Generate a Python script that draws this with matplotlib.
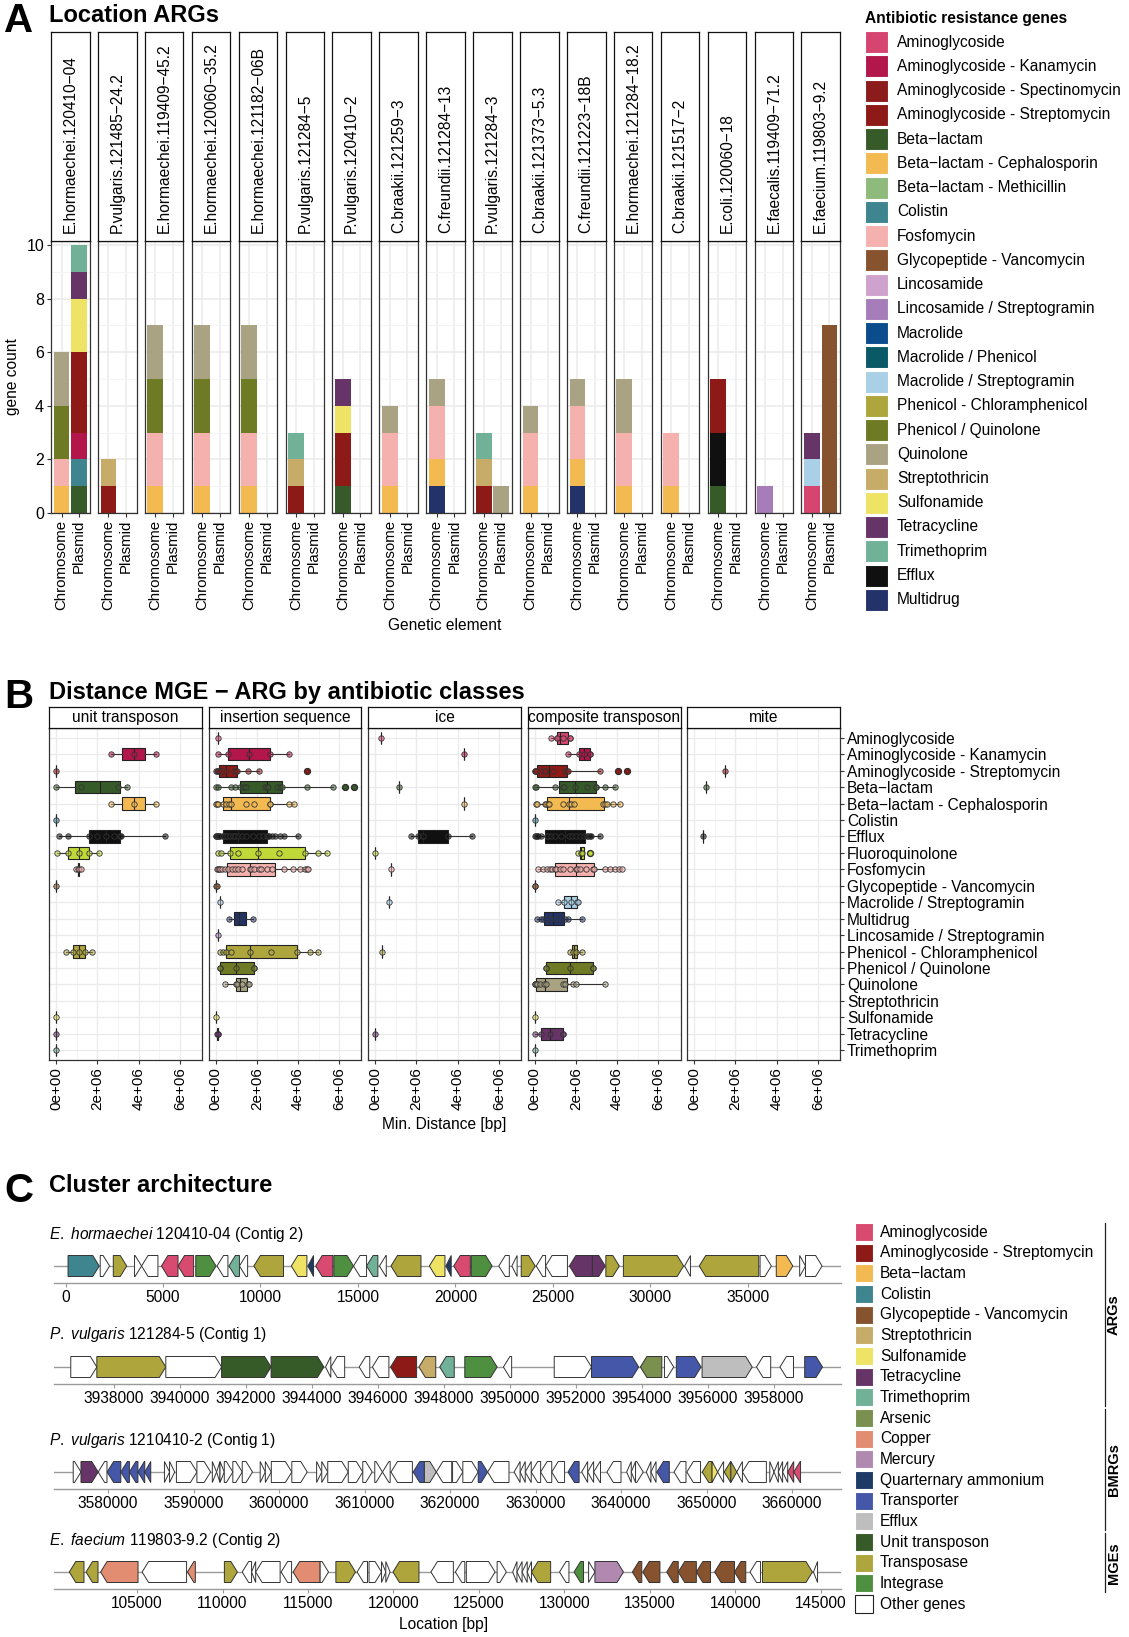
import numpy as np
import matplotlib
matplotlib.use('Agg')
import matplotlib.pyplot as plt
from matplotlib.patches import Rectangle
from matplotlib.colors import to_rgba
from matplotlib import font_manager

plt.rcParams['font.family'] = ['Liberation Sans', 'DejaVu Sans']
plt.rcParams['mathtext.fontset'] = 'custom'
plt.rcParams['mathtext.it'] = 'Liberation Sans:italic'
plt.rcParams['mathtext.rm'] = 'Liberation Sans'
_names = {f.name for f in font_manager.fontManager.ttflist}
NARROW = 'Liberation Sans Narrow' if 'Liberation Sans Narrow' in _names else 'Liberation Sans'

W, H = 1129, 1637
fig = plt.figure(figsize=(W / 100, H / 100), dpi=100)

FS = 11.2  # base text size


def rect(l, t, w, h):
    return [l / W, 1 - (t + h) / H, w / W, h / H]


def ftext(x, y, s, **kw):
    return fig.text(x / W, 1 - y / H, s, **kw)


# ---------------- data: panel A ----------------
arg_classes = ['Aminoglycoside', 'Aminoglycoside - Kanamycin', 'Aminoglycoside - Spectinomycin',
               'Aminoglycoside - Streptomycin', 'Beta−lactam', 'Beta−lactam - Cephalosporin',
               'Beta−lactam - Methicillin', 'Colistin', 'Fosfomycin', 'Glycopeptide - Vancomycin',
               'Lincosamide', 'Lincosamide / Streptogramin', 'Macrolide', 'Macrolide / Phenicol',
               'Macrolide / Streptogramin', 'Phenicol - Chloramphenicol', 'Phenicol / Quinolone',
               'Quinolone', 'Streptothricin', 'Sulfonamide', 'Tetracycline', 'Trimethoprim',
               'Efflux', 'Multidrug']
arg_colors = {
    'Aminoglycoside': '#D5456F', 'Aminoglycoside - Kanamycin': '#B3164B',
    'Aminoglycoside - Spectinomycin': '#8C1C1C', 'Aminoglycoside - Streptomycin': '#8E1A17',
    'Beta−lactam': '#375A29', 'Beta−lactam - Cephalosporin': '#F3BA52',
    'Beta−lactam - Methicillin': '#8EBA7B', 'Colistin': '#3E8590', 'Fosfomycin': '#F5B1AE',
    'Glycopeptide - Vancomycin': '#87532F', 'Lincosamide': '#CFA2CE',
    'Lincosamide / Streptogramin': '#A67DB8', 'Macrolide': '#0B4C8C',
    'Macrolide / Phenicol': '#0A5967', 'Macrolide / Streptogramin': '#A9D0E6',
    'Phenicol - Chloramphenicol': '#AEA63C', 'Phenicol / Quinolone': '#6F7A25',
    'Quinolone': '#A9A383', 'Streptothricin': '#C7AB69', 'Sulfonamide': '#EEE365',
    'Tetracycline': '#673468', 'Trimethoprim': '#71B198', 'Efflux': '#101010',
    'Multidrug': '#233268', 'Fluoroquinolone': '#C0D838',
}

strains = ['E.hormaechei.120410−04', 'P.vulgaris.121485−24.2', 'E.hormaechei.119409−45.2',
           'E.hormaechei.120060−35.2', 'E.hormaechei.121182−06B', 'P.vulgaris.121284−5',
           'P.vulgaris.120410−2', 'C.braakii.121259−3', 'C.freundii.121284−13',
           'P.vulgaris.121284−3', 'C.braakii.121373−5.3', 'C.freundii.121223−18B',
           'E.hormaechei.121284−18.2', 'C.braakii.121517−2', 'E.coli.120060−18',
           'E.faecalis.119409−71.2', 'E.faecium.119803−9.2']

chromosome_counts = [
    [('Beta−lactam - Cephalosporin', 1), ('Fosfomycin', 1), ('Phenicol / Quinolone', 2), ('Quinolone', 2)],
    [('Aminoglycoside - Streptomycin', 1), ('Streptothricin', 1)],
    [('Beta−lactam - Cephalosporin', 1), ('Fosfomycin', 2), ('Phenicol / Quinolone', 2), ('Quinolone', 2)],
    [('Beta−lactam - Cephalosporin', 1), ('Fosfomycin', 2), ('Phenicol / Quinolone', 2), ('Quinolone', 2)],
    [('Beta−lactam - Cephalosporin', 1), ('Fosfomycin', 2), ('Phenicol / Quinolone', 2), ('Quinolone', 2)],
    [('Aminoglycoside - Streptomycin', 1), ('Streptothricin', 1), ('Trimethoprim', 1)],
    [('Beta−lactam', 1), ('Aminoglycoside - Streptomycin', 2), ('Sulfonamide', 1), ('Tetracycline', 1)],
    [('Beta−lactam - Cephalosporin', 1), ('Fosfomycin', 2), ('Quinolone', 1)],
    [('Multidrug', 1), ('Beta−lactam - Cephalosporin', 1), ('Fosfomycin', 2), ('Quinolone', 1)],
    [('Aminoglycoside - Streptomycin', 1), ('Streptothricin', 1), ('Trimethoprim', 1)],
    [('Beta−lactam - Cephalosporin', 1), ('Fosfomycin', 2), ('Quinolone', 1)],
    [('Multidrug', 1), ('Beta−lactam - Cephalosporin', 1), ('Fosfomycin', 2), ('Quinolone', 1)],
    [('Beta−lactam - Cephalosporin', 1), ('Fosfomycin', 2), ('Quinolone', 2)],
    [('Beta−lactam - Cephalosporin', 1), ('Fosfomycin', 2)],
    [('Beta−lactam', 1), ('Efflux', 2), ('Aminoglycoside - Streptomycin', 2)],
    [('Lincosamide / Streptogramin', 1)],
    [('Aminoglycoside', 1), ('Macrolide / Streptogramin', 1), ('Tetracycline', 1)],
]
plasmid_counts = [
    [('Beta−lactam', 1), ('Colistin', 1), ('Aminoglycoside - Kanamycin', 1),
     ('Aminoglycoside - Streptomycin', 3), ('Sulfonamide', 2), ('Tetracycline', 1), ('Trimethoprim', 1)],
    [], [], [], [], [], [], [], [],
    [('Quinolone', 1)],
    [], [], [], [], [], [],
    [('Glycopeptide - Vancomycin', 7)],
]

# ---------------- data: panel B (distances in Mb) ----------------
mge_types = ['unit transposon', 'insertion sequence', 'ice', 'composite transposon', 'mite']
b_rows = ['Aminoglycoside', 'Aminoglycoside - Kanamycin', 'Aminoglycoside - Streptomycin',
          'Beta−lactam', 'Beta−lactam - Cephalosporin', 'Colistin', 'Efflux', 'Fluoroquinolone',
          'Fosfomycin', 'Glycopeptide - Vancomycin', 'Macrolide / Streptogramin', 'Multidrug',
          'Lincosamide / Streptogramin', 'Phenicol - Chloramphenicol', 'Phenicol / Quinolone',
          'Quinolone', 'Streptothricin', 'Sulfonamide', 'Tetracycline', 'Trimethoprim']

unit_transposon = {
    'Aminoglycoside - Kanamycin': [2.64, 3.76, 4.86],
    'Aminoglycoside - Streptomycin': [0.0],
    'Beta−lactam': [0.0, 1.22, 3.0, 3.44],
    'Beta−lactam - Cephalosporin': [2.64, 3.76, 4.86],
    'Colistin': [0.02],
    'Efflux': [0.13, 0.57, 1.6, 2.0, 2.43, 2.8, 3.11, 3.15, 5.3],
    'Fluoroquinolone': [0.05, 0.57, 1.1, 1.62, 2.1],
    'Fosfomycin': [0.98, 1.07, 1.1, 1.2],
    'Glycopeptide - Vancomycin': [0.0],
    'Phenicol - Chloramphenicol': [0.49, 0.8, 1.1, 1.4, 1.72],
    'Sulfonamide': [0.0],
    'Tetracycline': [0.0],
    'Trimethoprim': [0.0],
}
insertion_sequence = {
    'Aminoglycoside': [0.1],
    'Aminoglycoside - Kanamycin': [0.1, 0.6, 1.6, 2.62, 3.58],
    'Aminoglycoside - Streptomycin': [0.0, 0.05, 0.1, 0.15, 0.25, 0.3, 0.5, 0.9, 1.0, 1.05, 1.55, 2.1, 4.45],
    'Beta−lactam': [0.0, 0.1, 0.76, 0.94, 1.2, 1.38, 1.5, 2.4, 2.5, 2.55, 3.0, 3.11, 3.2, 4.41, 5.67, 6.25, 6.73],
    'Beta−lactam - Cephalosporin': [0.0, 0.08, 0.13, 0.36, 0.49, 0.65, 0.76, 1.49, 1.85, 2.62, 2.65, 3.57, 3.78],
    'Efflux': [0.0, 0.03, 0.06, 0.1, 0.15, 0.2, 0.36, 0.38, 0.45, 0.55, 0.7, 0.85, 0.95, 1.1, 1.3,
               1.5, 1.8, 2.1, 2.3, 2.48, 2.52, 2.6, 2.75, 2.9, 3.1, 3.3, 4.0],
    'Fluoroquinolone': [0.1, 0.28, 0.71, 1.1, 2.07, 3.08, 4.31, 4.94, 5.4],
    'Fosfomycin': [0.05, 0.1, 0.15, 0.2, 0.3, 0.44, 0.6, 0.8, 0.95, 1.1, 1.3, 1.65, 1.7, 1.85, 2.1,
                   2.2, 2.5, 2.75, 3.3, 3.75, 4.1, 4.35, 4.45, 4.5],
    'Glycopeptide - Vancomycin': [0.0, 0.05],
    'Macrolide / Streptogramin': [0.2],
    'Multidrug': [0.65, 1.13, 1.82],
    'Lincosamide / Streptogramin': [0.13],
    'Phenicol - Chloramphenicol': [0.24, 0.35, 0.5, 0.73, 1.65, 2.67, 3.94, 4.57, 4.98],
    'Phenicol / Quinolone': [0.2, 0.2, 1.0, 1.85, 1.85],
    'Quinolone': [0.45, 1.0, 1.05, 1.3, 1.58, 1.6],
    'Sulfonamide': [0.0],
    'Tetracycline': [0.05, 0.1, 0.12],
}
ice = {
    'Aminoglycoside': [0.31],
    'Aminoglycoside - Kanamycin': [4.3],
    'Beta−lactam': [1.15],
    'Beta−lactam - Cephalosporin': [4.3],
    'Efflux': [1.72, 2.1, 2.3, 3.53, 4.72],
    'Fluoroquinolone': [0.0],
    'Fosfomycin': [0.75],
    'Macrolide / Streptogramin': [0.66],
    'Phenicol - Chloramphenicol': [0.32],
    'Tetracycline': [0.0],
}
composite_transposon = {
    'Aminoglycoside': [0.8, 1.07, 1.07, 1.4, 1.7, 1.7],
    'Aminoglycoside - Kanamycin': [1.63, 2.17, 2.4, 2.7, 2.7],
    'Aminoglycoside - Streptomycin': [0.0, 0.03, 0.05, 0.07, 0.3, 0.49, 0.5, 0.9, 1.5, 1.56, 1.6, 3.17, 4.02, 4.49],
    'Beta−lactam': [0.0, 0.07, 0.99, 1.4, 1.45, 1.95, 2.53, 2.96, 3.0, 3.43, 3.92],
    'Beta−lactam - Cephalosporin': [0.05, 0.1, 0.5, 0.55, 0.63, 0.7, 1.4, 1.65, 1.75, 1.9, 3.3, 3.4, 3.5, 3.8, 4.15],
    'Colistin': [0.0],
    'Efflux': [0.0, 0.05, 0.1, 0.15, 0.3, 0.6, 0.65, 0.8, 1.0, 1.3, 1.66, 1.8, 2.0, 2.2, 2.4,
               2.56, 2.6, 2.7, 2.75, 3.17],
    'Fluoroquinolone': [2.12, 2.25, 2.3, 2.7],
    'Fosfomycin': [0.15, 0.4, 0.6, 0.75, 0.85, 1.0, 1.05, 1.25, 1.4, 1.7, 2.0, 2.05, 2.2, 2.5,
                   2.85, 2.9, 3.4, 3.65, 3.9, 4.1, 4.25],
    'Glycopeptide - Vancomycin': [0.0, 0.02],
    'Macrolide / Streptogramin': [1.14, 1.45, 1.75, 2.08, 2.1],
    'Multidrug': [0.1, 0.3, 0.42, 0.6, 0.8, 1.0, 1.25, 1.5, 1.6, 2.3],
    'Phenicol - Chloramphenicol': [1.7, 1.85, 2.0, 2.3],
    'Phenicol / Quinolone': [0.55, 0.55, 1.7, 2.85, 2.85],
    'Quinolone': [0.0, 0.03, 0.05, 0.1, 0.28, 0.48, 0.55, 1.4, 1.5, 1.87, 2.0, 3.43],
    'Sulfonamide': [0.0],
    'Tetracycline': [0.0, 0.33, 0.76, 1.37, 1.37],
    'Trimethoprim': [0.0],
}
mite = {
    'Aminoglycoside - Streptomycin': [1.49],
    'Beta−lactam': [0.57],
    'Efflux': [0.45],
}
distances = [unit_transposon, insertion_sequence, ice, composite_transposon, mite]

# ---------------- data: panel C (start, end, strand, class) ----------------
gene_classes = ['Aminoglycoside', 'Aminoglycoside - Streptomycin', 'Beta−lactam', 'Colistin',
                'Glycopeptide - Vancomycin', 'Streptothricin', 'Sulfonamide', 'Tetracycline',
                'Trimethoprim', 'Arsenic', 'Copper', 'Mercury', 'Quarternary ammonium',
                'Transporter', 'Efflux', 'Unit transposon', 'Transposase', 'Integrase', 'Other genes']
gene_colors = {
    'Aminoglycoside': '#D94A70', 'Aminoglycoside - Streptomycin': '#8E1A17', 'Beta−lactam': '#F3BA52',
    'Colistin': '#3E8590', 'Glycopeptide - Vancomycin': '#87532F', 'Streptothricin': '#C7AB69',
    'Sulfonamide': '#EEE365', 'Tetracycline': '#673468', 'Trimethoprim': '#71B198',
    'Arsenic': '#79904F', 'Copper': '#E28C72', 'Mercury': '#B088B0',
    'Quarternary ammonium': '#1E3B66', 'Transporter': '#4557A9', 'Efflux': '#BEBEBE',
    'Unit transposon': '#375A29', 'Transposase': '#AEA63C', 'Integrase': '#4F9040',
    'Other genes': '#FFFFFF',
}

track1_genes = [
    (130, 1730, 1, 'Colistin'), (1780, 2260, 1, 'Other genes'), (2450, 3140, 1, 'Transposase'),
    (3540, 3900, 1, 'Other genes'), (3900, 4740, -1, 'Other genes'), (4920, 5770, -1, 'Aminoglycoside'),
    (5770, 6570, -1, 'Aminoglycoside'), (6680, 7720, 1, 'Integrase'), (7770, 8330, -1, 'Other genes'),
    (8380, 8920, -1, 'Trimethoprim'), (8920, 9340, -1, 'Other genes'), (9660, 11180, -1, 'Transposase'),
    (11580, 12380, -1, 'Sulfonamide'), (12430, 12720, -1, 'Quarternary ammonium'),
    (12830, 13710, -1, 'Aminoglycoside'), (13760, 14770, 1, 'Integrase'), (14770, 15440, -1, 'Other genes'),
    (15440, 16020, -1, 'Trimethoprim'), (16100, 16450, -1, 'Other genes'), (16690, 18230, -1, 'Transposase'),
    (18660, 19460, -1, 'Sulfonamide'), (19510, 19780, -1, 'Quarternary ammonium'),
    (19910, 20760, -1, 'Aminoglycoside'), (20810, 21880, 1, 'Integrase'), (22220, 22760, -1, 'Other genes'),
    (22890, 23160, -1, 'Other genes'), (23370, 24090, 1, 'Transposase'), (24140, 24620, -1, 'Other genes'),
    (24620, 25740, -1, 'Other genes'), (25840, 27020, -1, 'Tetracycline'), (27020, 27680, 1, 'Tetracycline'),
    (27710, 28400, 1, 'Transposase'), (28610, 31700, 1, 'Transposase'), (31750, 32050, -1, 'Other genes'),
    (32500, 35550, -1, 'Transposase'), (35620, 36200, 1, 'Other genes'), (36450, 37300, 1, 'Beta−lactam'),
    (37650, 37950, 1, 'Other genes'), (37950, 38800, 1, 'Other genes'),
]
track2_genes = [
    (3936690, 3937480, 1, 'Other genes'), (3937480, 3939570, 1, 'Transposase'),
    (3939570, 3941260, 1, 'Other genes'), (3941260, 3942760, 1, 'Unit transposon'),
    (3942760, 3944360, 1, 'Unit transposon'), (3944410, 3944570, -1, 'Other genes'),
    (3944570, 3944990, -1, 'Other genes'), (3945430, 3945750, -1, 'Other genes'),
    (3945830, 3946330, -1, 'Other genes'), (3946380, 3947170, -1, 'Aminoglycoside - Streptomycin'),
    (3947240, 3947750, -1, 'Streptothricin'), (3947870, 3948310, -1, 'Trimethoprim'),
    (3948630, 3949610, 1, 'Integrase'), (3949800, 3950050, -1, 'Other genes'),
    (3951340, 3952470, 1, 'Other genes'), (3952470, 3953900, 1, 'Transporter'),
    (3953950, 3954600, -1, 'Arsenic'), (3954680, 3954960, 1, 'Other genes'),
    (3955040, 3955790, 1, 'Transporter'), (3955820, 3957340, 1, 'Efflux'),
    (3957470, 3957900, -1, 'Other genes'), (3958180, 3958590, -1, 'Other genes'),
    (3958930, 3959470, 1, 'Transporter'),
]
track3_genes = [
    (3575930, 3576840, 1, 'Other genes'), (3576840, 3578850, 1, 'Tetracycline'),
    (3578850, 3579880, -1, 'Other genes'), (3579900, 3581500, -1, 'Transporter'),
    (3581500, 3582500, -1, 'Transporter'), (3582500, 3583500, -1, 'Transporter'),
    (3583500, 3584300, -1, 'Transporter'), (3584300, 3585000, -1, 'Transporter'),
    (3586600, 3587200, 1, 'Other genes'), (3587200, 3587800, 1, 'Other genes'),
    (3588000, 3590400, 1, 'Other genes'), (3590400, 3592000, 1, 'Other genes'),
    (3592200, 3592700, 1, 'Other genes'), (3592700, 3593100, -1, 'Other genes'),
    (3593100, 3593600, 1, 'Other genes'), (3593600, 3594600, 1, 'Other genes'),
    (3594600, 3595700, 1, 'Other genes'), (3595700, 3596900, 1, 'Other genes'),
    (3597800, 3598400, 1, 'Other genes'), (3598400, 3599100, 1, 'Other genes'),
    (3599100, 3601500, 1, 'Other genes'), (3601500, 3603300, 1, 'Other genes'),
    (3604400, 3605000, 1, 'Other genes'), (3605000, 3605700, 1, 'Other genes'),
    (3605700, 3608100, 1, 'Other genes'), (3608100, 3609800, 1, 'Other genes'),
    (3609800, 3610900, 1, 'Other genes'), (3611200, 3612100, 1, 'Other genes'),
    (3612100, 3613000, -1, 'Other genes'), (3613100, 3615600, -1, 'Other genes'),
    (3615700, 3617000, -1, 'Transporter'), (3617000, 3618400, 1, 'Efflux'),
    (3618400, 3620200, -1, 'Other genes'), (3620300, 3621500, 1, 'Other genes'),
    (3621500, 3623300, 1, 'Other genes'), (3623300, 3624400, 1, 'Transporter'),
    (3624400, 3626900, -1, 'Other genes'), (3627500, 3628200, -1, 'Other genes'),
    (3628200, 3628800, -1, 'Other genes'), (3628800, 3629500, -1, 'Other genes'),
    (3629500, 3630600, -1, 'Other genes'), (3630600, 3631900, -1, 'Other genes'),
    (3631900, 3633400, -1, 'Other genes'), (3633800, 3635100, -1, 'Transporter'),
    (3635400, 3636100, -1, 'Other genes'), (3636100, 3636800, -1, 'Other genes'),
    (3636800, 3637600, -1, 'Other genes'), (3638350, 3640000, -1, 'Other genes'),
    (3640660, 3641200, -1, 'Other genes'), (3641200, 3641700, -1, 'Other genes'),
    (3641700, 3642600, 1, 'Other genes'), (3642960, 3643500, -1, 'Other genes'),
    (3643500, 3644100, -1, 'Other genes'), (3644200, 3645650, -1, 'Transporter'),
    (3646200, 3647600, -1, 'Other genes'), (3647700, 3649300, -1, 'Other genes'),
    (3649500, 3650650, -1, 'Transposase'), (3650650, 3651300, 1, 'Sulfonamide'),
    (3651300, 3652000, -1, 'Other genes'), (3652070, 3652850, -1, 'Transposase'),
    (3652850, 3653540, 1, 'Transposase'), (3653540, 3654200, -1, 'Other genes'),
    (3654200, 3657000, -1, 'Other genes'), (3657400, 3657900, 1, 'Other genes'),
    (3657900, 3658400, -1, 'Other genes'), (3658400, 3658900, -1, 'Other genes'),
    (3658900, 3659500, -1, 'Other genes'), (3659500, 3660200, -1, 'Aminoglycoside'),
    (3660200, 3661000, -1, 'Aminoglycoside'),
]
track4_genes = [
    (101040, 101900, -1, 'Transposase'), (102020, 102720, -1, 'Transposase'),
    (102870, 105060, -1, 'Copper'), (105300, 107900, -1, 'Other genes'),
    (107950, 108410, -1, 'Copper'), (110110, 110870, 1, 'Transposase'),
    (111150, 111700, -1, 'Other genes'), (111700, 111940, -1, 'Other genes'),
    (111940, 113370, -1, 'Other genes'), (113430, 114040, -1, 'Other genes'),
    (114130, 115710, -1, 'Copper'), (115710, 116200, 1, 'Other genes'),
    (116630, 117780, 1, 'Transposase'), (117870, 118480, -1, 'Other genes'),
    (118570, 119300, 1, 'Other genes'), (119300, 119550, 1, 'Other genes'),
    (119550, 119800, 1, 'Other genes'), (119970, 121490, -1, 'Transposase'),
    (122190, 123500, -1, 'Other genes'), (123620, 124170, -1, 'Other genes'),
    (124260, 125940, 1, 'Other genes'), (126060, 126600, 1, 'Other genes'),
    (126970, 127220, -1, 'Other genes'), (127220, 127520, -1, 'Other genes'),
    (127520, 127820, -1, 'Other genes'), (127820, 128070, -1, 'Other genes'),
    (128070, 129190, -1, 'Transposase'), (129710, 130260, -1, 'Other genes'),
    (130560, 131110, -1, 'Integrase'), (131410, 131780, 1, 'Other genes'),
    (131780, 133450, 1, 'Mercury'), (133970, 134520, -1, 'Glycopeptide - Vancomycin'),
    (134580, 135580, -1, 'Glycopeptide - Vancomycin'), (135980, 136650, -1, 'Glycopeptide - Vancomycin'),
    (136650, 137710, -1, 'Glycopeptide - Vancomycin'), (137710, 138540, -1, 'Glycopeptide - Vancomycin'),
    (138780, 139940, -1, 'Glycopeptide - Vancomycin'), (139940, 140600, -1, 'Glycopeptide - Vancomycin'),
    (140850, 141460, -1, 'Other genes'), (141580, 144500, 1, 'Transposase'),
    (144560, 144800, -1, 'Other genes'),
]

# ================= Panel A =================
ftext(4, 21, 'A', fontsize=29, fontweight='bold', va='center')
ftext(49, 16, 'Location ARGs', fontsize=17, fontweight='bold', va='center')

fac_w, fac_step = 38.6, 46.9
for i, name in enumerate(strains):
    left = 51 + fac_step * i
    ax = fig.add_axes(rect(left, 241, fac_w, 272))
    for xpos, stack in ((1, chromosome_counts[i]), (2, plasmid_counts[i])):
        bottom = 0
        for cls, n in stack:
            ax.bar(xpos, n, bottom=bottom, width=0.9, color=arg_colors[cls], lw=0, zorder=2)
            bottom += n
    ax.set_xlim(0.4, 2.6)
    ax.set_ylim(0, 10.15)
    ax.set_yticks([0, 2, 4, 6, 8, 10])
    ax.set_yticks([1, 3, 5, 7, 9], minor=True)
    ax.set_xticks([1, 2], ['Chromosome', 'Plasmid'], rotation=90, fontsize=10.8)
    ax.grid(which='major', color='#EBEBEB', lw=1.1, zorder=0)
    ax.grid(which='minor', axis='y', color='#F3F3F3', lw=0.6, zorder=0)
    ax.tick_params(which='minor', length=0)
    ax.tick_params(length=3, color='#333333', pad=2)
    ax.tick_params(axis='y', labelsize=11.5)
    if i > 0:
        ax.tick_params(axis='y', length=0, labelleft=False)
    for sp in ax.spines.values():
        sp.set_color('#333333')
        sp.set_linewidth(0.9)
    sax = fig.add_axes(rect(left, 32, fac_w, 209))
    sax.set_xticks([])
    sax.set_yticks([])
    for sp in sax.spines.values():
        sp.set_color('#111111')
        sp.set_linewidth(0.9)
    sax.text(0.5, 8 / 209, name, rotation=90, ha='center', va='bottom',
             fontsize=FS, transform=sax.transAxes)

ftext(13, 377, 'gene count', rotation=90, ha='center', va='center', fontsize=FS)
ftext(445, 626, 'Genetic element', ha='center', va='center', fontsize=FS)

lax = fig.add_axes(rect(860, 0, 269, 620))
lax.set_xlim(0, 269)
lax.set_ylim(620, 0)
lax.axis('off')
lax.text(5, 18, 'Antibiotic resistance genes', fontsize=FS, fontweight='bold', va='center')
for j, cls in enumerate(arg_classes):
    y = 42 + 24.25 * j
    lax.add_patch(Rectangle((5, y - 11), 23, 22, facecolor=arg_colors[cls], edgecolor='white', lw=0.8))
    lax.text(37, y, cls, fontsize=FS, va='center')

# ================= Panel B =================
ftext(4, 697, 'B', fontsize=29, fontweight='bold', va='center')
ftext(49, 692, 'Distance MGE − ARG by antibiotic classes', fontsize=17, fontweight='bold', va='center')

rows_y = {cls: k + 1 for k, cls in enumerate(b_rows)}
for k, (mge, data) in enumerate(zip(mge_types, distances)):
    left = 49 + 159.5 * k
    ax = fig.add_axes(rect(left, 728, 153, 332))
    for cls, vals in data.items():
        col = arg_colors[cls]
        yv = rows_y[cls]
        ax.boxplot(vals, positions=[yv], orientation='horizontal', widths=0.75, patch_artist=True,
                   manage_ticks=False,
                   boxprops=dict(facecolor=col, edgecolor='#222222', lw=0.8),
                   medianprops=dict(color='#222222', lw=0.8),
                   whiskerprops=dict(color='#333333', lw=0.8),
                   capprops=dict(lw=0),
                   flierprops=dict(marker='o', markerfacecolor=col, markeredgecolor='#222222',
                                   markersize=4.5, markeredgewidth=0.7),
                   zorder=2)
        ax.scatter(vals, [yv] * len(vals), s=15, facecolor=to_rgba(col, 0.55),
                   edgecolor='#333333', lw=0.6, zorder=3)
    ax.set_xlim(-0.34, 7.07)
    ax.set_ylim(20.6, 0.4)
    ax.set_xticks([0, 2, 4, 6], ['0e+00', '2e+06', '4e+06', '6e+06'], rotation=90, fontsize=11)
    ax.set_xticks([1, 3, 5], minor=True)
    ax.set_yticks(range(1, 21))
    ax.grid(which='major', color='#EBEBEB', lw=1.0, zorder=0)
    ax.grid(which='minor', axis='x', color='#F3F3F3', lw=0.6, zorder=0)
    ax.set_axisbelow(True)
    ax.tick_params(which='minor', length=0)
    ax.tick_params(length=3, color='#333333', pad=2)
    if k == len(mge_types) - 1:
        ax.yaxis.tick_right()
        ax.set_yticklabels(b_rows, fontsize=FS)
    else:
        ax.tick_params(axis='y', length=0, labelleft=False)
    for sp in ax.spines.values():
        sp.set_color('#333333')
        sp.set_linewidth(0.9)
    sax = fig.add_axes(rect(left, 707, 153, 21))
    sax.set_xticks([])
    sax.set_yticks([])
    for sp in sax.spines.values():
        sp.set_color('#111111')
        sp.set_linewidth(0.9)
    sax.text(0.5, 0.5, mge, ha='center', va='center', fontsize=FS, transform=sax.transAxes)

ftext(444, 1125, 'Min. Distance [bp]', ha='center', va='center', fontsize=FS)

# ================= Panel C =================
ftext(4, 1191, 'C', fontsize=29, fontweight='bold', va='center', family=NARROW)
ftext(49, 1186, 'Cluster architecture', fontsize=17, fontweight='bold', va='center', family=NARROW)

tracks = [
    (r'$\it{E.\ hormaechei}$ 120410-04 (Contig 2)', track1_genes, (-590, 39770),
     list(range(0, 35001, 5000)), 1266),
    (r'$\it{P.\ vulgaris}$ 121284-5 (Contig 1)', track2_genes, (3936182, 3960030),
     list(range(3938000, 3958001, 2000)), 1367),
    (r'$\it{P.\ vulgaris}$ 1210410-2 (Contig 1)', track3_genes, (3573684, 3665730),
     list(range(3580000, 3660001, 10000)), 1472),
    (r'$\it{E.\ faecium}$ 119803-9.2 (Contig 2)', track4_genes, (100146, 146170),
     list(range(105000, 145001, 5000)), 1572),
]
gene_h = 21
for title, genes, xlim, ticks, yc in tracks:
    ftext(49, yc - 32, title, fontsize=FS, va='center')
    ax_h = 30
    ax = fig.add_axes(rect(54, yc - 13, 787, ax_h))
    ax.set_xlim(*xlim)
    ax.set_ylim(0, ax_h)
    yg = ax_h - 13
    head = 6.5 * (xlim[1] - xlim[0]) / 787
    ax.axhline(yg, color='#9A9A9A', lw=1.0, zorder=0)
    for start, end, strand, cls in genes:
        hd = min(head, end - start)
        if strand > 0:
            xs = [start, end - hd, end, end - hd, start]
        else:
            xs = [end, start + hd, start, start + hd, end]
        ys = [yg - gene_h / 2, yg - gene_h / 2, yg, yg + gene_h / 2, yg + gene_h / 2]
        ax.fill(xs, ys, facecolor=gene_colors[cls], edgecolor='#333333', lw=0.7, zorder=2)
    ax.set_xticks(ticks, [str(t) for t in ticks], fontsize=11.2)
    ax.set_yticks([])
    for s in ('top', 'left', 'right'):
        ax.spines[s].set_visible(False)
    ax.spines['bottom'].set_color('#9A9A9A')
    ax.spines['bottom'].set_linewidth(1.0)
    ax.tick_params(axis='x', length=3, color='#9A9A9A', pad=2)
    ax.patch.set_alpha(0)

ftext(444, 1624, 'Location [bp]', ha='center', va='center', fontsize=FS)

cax = fig.add_axes(rect(850, 1215, 279, 400))
cax.set_xlim(0, 279)
cax.set_ylim(400, 0)
cax.axis('off')
item_y = [17 + 20.67 * j for j in range(len(gene_classes))]
for j, cls in enumerate(gene_classes):
    y = item_y[j]
    edge = '#222222' if cls == 'Other genes' else 'white'
    cax.add_patch(Rectangle((5, y - 9), 18, 18, facecolor=gene_colors[cls], edgecolor=edge, lw=0.8))
    cax.text(30, y, cls, fontsize=FS, va='center')
groups = [('ARGs', 0, 8), ('BMRGs', 9, 14), ('MGEs', 15, 17)]
for label, a, b in groups:
    top, bot = item_y[a] - 9, item_y[b] + 9
    cax.plot([255, 255], [top, bot], color='#222222', lw=0.9)
    cax.text(264, (top + bot) / 2, label, rotation=90, ha='center', va='center',
             fontsize=10.5, fontweight='bold')

fig.savefig('out.png', dpi=100)
